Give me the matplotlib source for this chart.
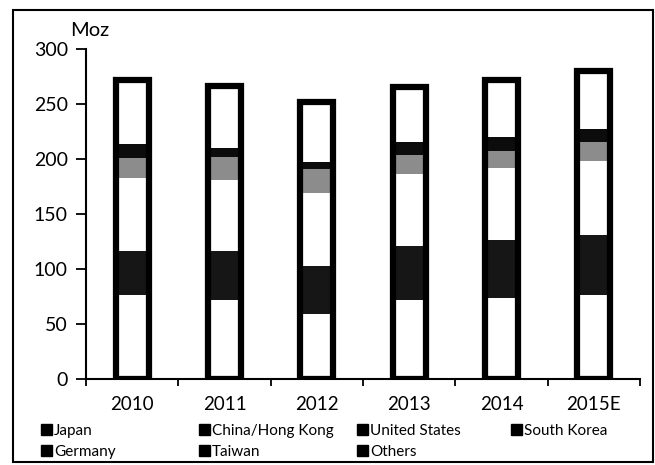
import matplotlib
matplotlib.use("Agg")
import matplotlib.pyplot as plt
from matplotlib.patches import Patch, Rectangle
import numpy as np

plt.rcParams['font.family'] = ['Lato', 'DejaVu Sans']

years = ["2010", "2011", "2012", "2013", "2014", "2015E"]
regions = ["Japan", "China/Hong Kong", "United States", "South Korea",
           "Germany", "Taiwan", "Others"]

japan = [76, 72, 59, 72, 73.5, 76.5]
china_hk = [40, 44, 44, 49, 52.5, 54.5]
united_states = [67, 65, 66, 65, 66, 67]
south_korea = [17.5, 21, 21.5, 18, 15, 17]
germany = [13.5, 8, 7, 11, 13, 12.5]
taiwan = [15, 14, 13, 14, 15, 16]
others = [42.5, 42, 41.5, 36, 37, 36.5]

series = [japan, china_hk, united_states, south_korea, germany, taiwan, others]
fills = ["white", "#161616", "white", "#8c8c8c", "#0c0c0c", "white", "white"]

fig = plt.figure(figsize=(6.55, 4.65), dpi=100)
W, H = 655, 465
ax = fig.add_axes([86 / W, 1 - 379 / H, (640 - 86) / W, (379 - 49) / H])

x = np.arange(len(years))
width = 0.36
bottom = np.zeros(len(years))
for vals, fc in zip(series, fills):
    ax.bar(x, vals, width, bottom=bottom, color=fc, linewidth=0, zorder=2)
    bottom += np.array(vals)

# heavy outline around each stacked column
ax.bar(x, bottom, width, facecolor="none", edgecolor="black", linewidth=4.5, zorder=3)

ax.set_xlim(-0.5, len(years) - 0.5)
ax.set_ylim(0, 300)
ax.set_yticks([0, 50, 100, 150, 200, 250, 300])
ax.set_xticks(x)
ax.set_xticklabels(years)
ax.set_xticks(np.arange(-0.5, len(years)), minor=True)
ax.tick_params(axis="x", which="major", length=0, pad=12, labelsize=13.5)
ax.tick_params(axis="x", which="minor", length=5, width=1.3, direction="out")
ax.tick_params(axis="y", length=7, width=1.3, direction="out", pad=6, labelsize=14)

for s in ["top", "right"]:
    ax.spines[s].set_visible(False)
for s in ["left", "bottom"]:
    ax.spines[s].set_linewidth(1.5)
    ax.spines[s].set_color("black")

fig.text(70 / W, 1 - 31 / H, "Moz", fontsize=14.5, ha="left", va="center")

# legend laid out in rows of four columns
columns = [["Japan", "Germany"], ["China/Hong Kong", "Taiwan"],
           ["United States", "Others"], ["South Korea"]]
col_x = [41, 199, 357, 511]
for names, cx in zip(columns, col_x):
    handles = [Patch(facecolor="black", edgecolor="black", label=n) for n in names]
    fig.legend(handles=handles, loc="upper left",
               bbox_to_anchor=(cx / W, 1 - 424 / H),
               frameon=False, fontsize=11, handlelength=0.75,
               handleheight=0.75, handletextpad=0.1, borderpad=0,
               borderaxespad=0, labelspacing=0.45)

fig.patches.append(Rectangle((13 / W, 3 / H), (653 - 13) / W, (462 - 10) / H,
                             transform=fig.transFigure, fill=False,
                             edgecolor="black", linewidth=1.5))

fig.savefig("out.png", dpi=100)
